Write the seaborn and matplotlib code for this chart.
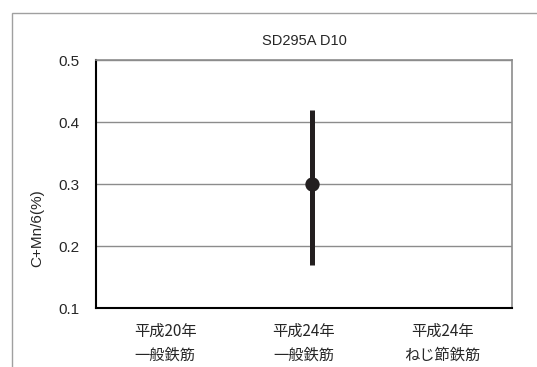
import matplotlib
matplotlib.use("Agg")
import matplotlib.pyplot as plt
import matplotlib.transforms as mtransforms
import seaborn as sns
import pandas as pd
from matplotlib.patches import Rectangle

sns.set_style("white")
plt.rcParams["font.family"] = ["Liberation Sans", "Noto Sans CJK JP", "DejaVu Sans"]

categories = ["平成20年\n一般鉄筋", "平成24年\n一般鉄筋", "平成24年\nねじ節鉄筋"]
# range of C+Mn/6 for the measured group: minimum, typical, maximum
group = ["平成24年\n一般鉄筋", "平成24年\n一般鉄筋", "平成24年\n一般鉄筋"]
values = [0.17, 0.30, 0.42]
yticks = [0.1, 0.2, 0.3, 0.4, 0.5]

df = pd.DataFrame({"group": group, "value": values})

fig = plt.figure(figsize=(5.37, 3.67), dpi=100)
ax = fig.add_axes([96 / 537, 1 - 308 / 367, (512 - 96) / 537, (308 - 60) / 367])

sns.pointplot(data=df, x="group", y="value", order=categories,
              estimator="median", errorbar=("pi", 100),
              color="#231f20", markersize=8.3, linestyle="none",
              err_kws={"linewidth": 3.6, "solid_capstyle": "butt"}, ax=ax)

# nudge the range marker slightly right of the category centre
shift = mtransforms.ScaledTranslation(8 / 100, 0, fig.dpi_scale_trans)
for art in list(ax.lines) + list(ax.collections):
    art.set_transform(art.get_transform() + shift)

ax.set_ylim(0.1, 0.5)
ax.set_xlim(-0.5, 2.5)
ax.set_yticks(yticks)
ax.set_yticklabels([f"{t:.1f}" for t in yticks])
ax.yaxis.grid(True, color="#8c8c8c", linewidth=1)
ax.set_axisbelow(True)
ax.tick_params(axis="y", length=0, pad=12, labelsize=11)
ax.tick_params(axis="x", length=0, pad=11, labelsize=11)
for lbl in ax.get_xticklabels():
    lbl.set_family(["Noto Sans CJK JP", "DejaVu Sans"])
    lbl.set_linespacing(1.5)
ax.set_xticks([0.5, 1.5], minor=True)
ax.tick_params(axis="x", which="minor", direction="in", length=3,
               color="#999999", width=1)

ax.set_xlabel("")
ax.set_ylabel("")
fig.text(37 / 537, 1 - 228 / 367, "C+Mn/6(%)", rotation=90,
         ha="center", va="center", fontsize=11)
ax.set_title("SD295A D10", fontsize=10.5, pad=11)

for side in ["top", "right"]:
    ax.spines[side].set_color("#8c8c8c")
    ax.spines[side].set_linewidth(1.2)
for side in ["left", "bottom"]:
    ax.spines[side].set_color("black")
    ax.spines[side].set_linewidth(1.5)

fig.patches.append(Rectangle((12 / 537, -0.2), 2, 1 - 13 / 367 + 0.2,
                             transform=fig.transFigure, fill=False,
                             edgecolor="#a0a0a0", linewidth=1))

fig.savefig("out.png", dpi=100)
